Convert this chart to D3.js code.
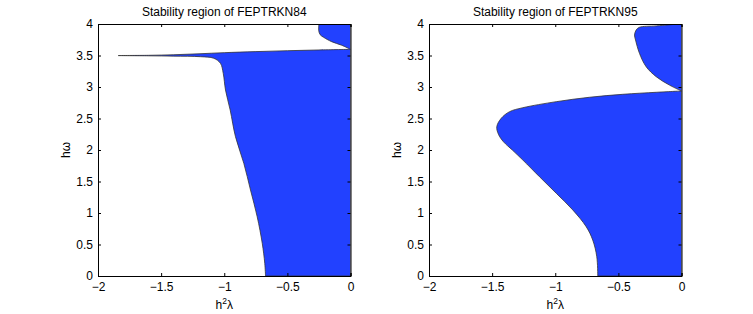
<!DOCTYPE html>
<html><head><meta charset="utf-8">
<script src="https://cdn.jsdelivr.net/npm/d3@7"></script>
<style>body{margin:0;background:#fff}svg{display:block}text{font-family:"Liberation Sans",Arial,sans-serif;fill:#000}</style>
</head><body><svg id="c" width="753" height="314"></svg>
<script>
// Tick values
const xTicks = [-2, -1.5, -1, -0.5, 0];
const yTicks = [0, 0.5, 1, 1.5, 2, 2.5, 3, 3.5, 4];
const titles = ["Stability region of FEPTRKN84", "Stability region of FEPTRKN95"];

// Boundary curves (h^2 lambda, h omega); each region is closed along the axis h^2 lambda = 0.
// FEPTRKN84: main stability region
const main84 = [[-0.673,0],[-0.679,0.2],[-0.699,0.519],[-0.739,0.941],[-0.792,1.365],[-0.845,1.789],[-0.911,2.211],[-0.953,2.635],
  [-0.99,2.952],[-1.008,3.217],[-1.03,3.376],[-1.083,3.456],[-1.188,3.481],[-1.4,3.49],[-1.6,3.495],[-1.84,3.499],
  [-1.6,3.503],[-1.4,3.512],[-1.2,3.527],[-1.0,3.545],[-0.75,3.562],[-0.5,3.576],[-0.25,3.588],[0,3.598]];
// FEPTRKN84: small region near the top right corner
const top84 = [[-0.25,4.0],[-0.252,3.9],[-0.24,3.83],[-0.214,3.79],[-0.15,3.72],[-0.07,3.663],[0,3.598]];

// FEPTRKN95: main stability region
const main95 = [[-0.663,0],[-0.671,0.306],[-0.703,0.571],[-0.755,0.783],[-0.861,1.048],[-0.992,1.313],[-1.125,1.576],[-1.257,1.841],
  [-1.34,2.0],[-1.41,2.13],[-1.45,2.25],[-1.463,2.37],[-1.428,2.503],[-1.362,2.608],[-1.257,2.671],[-0.992,2.767],[-0.729,2.837],
  [-0.465,2.884],[-0.2,2.916],[0,2.937]];
// FEPTRKN95: upper region
const top95 = [[-0.02,4.0],[-0.2,3.97],[-0.333,3.948],[-0.359,3.905],[-0.372,3.825],[-0.364,3.746],[-0.333,3.535],[-0.28,3.322],
  [-0.2,3.163],[-0.095,3.03],[0,2.937]];

const panels = [
  {left: 98, regions: [main84, top84], title: titles[0]},
  {left: 429, regions: [main95, top95], title: titles[1]}
];
const W = 252.5, T0 = 24, H = 252;
const svg = d3.select("#c");
const fillColor = "#2241ff";
const FS = 12;

panels.forEach((p, i) => {
  const x = d3.scaleLinear().domain([-2, 0]).range([0, W]);
  const y = d3.scaleLinear().domain([0, 4]).range([H, 0]);
  const g = svg.append("g").attr("transform", `translate(${p.left},${T0})`);
  const cid = "clip" + i;
  g.append("clipPath").attr("id", cid).append("rect").attr("width", W).attr("height", H);
  const line = d3.line().x(d => x(d[0])).y(d => y(d[1])).curve(d3.curveCatmullRom.alpha(0.5));
  const rg = g.append("g").attr("clip-path", `url(#${cid})`);
  p.regions.forEach(r => {
    const first = r[0];
    const d = line(r) + `L${x(0)},${y(first[1])}Z`;
    rg.append("path").attr("d", d).attr("fill", fillColor)
      .attr("stroke", "#333").attr("stroke-width", 0.8).attr("stroke-linejoin", "round");
  });
  // axes
  const tl = 3;
  const bottomAx = g.append("g").attr("transform", `translate(0,${H})`)
    .call(d3.axisBottom(x).tickValues(xTicks).tickSize(-tl).tickPadding(6.5).tickFormat(d => d === 0 ? "0" : "\u2212" + Math.abs(d)));
  const topAx = g.append("g").call(d3.axisTop(x).tickValues(xTicks).tickSize(-tl).tickFormat(""));
  const leftAx = g.append("g").call(d3.axisLeft(y).tickValues(yTicks).tickSize(-tl).tickPadding(5).tickFormat(d => String(d)));
  const rightAx = g.append("g").attr("transform", `translate(${W},0)`).call(d3.axisRight(y).tickValues(yTicks).tickSize(-tl).tickFormat(""));
  [bottomAx, topAx, leftAx, rightAx].forEach(a => {
    a.selectAll("path").attr("stroke", "#000").attr("stroke-width", 1);
    a.selectAll("line").attr("stroke", "#000");
    a.selectAll("text").attr("font-size", FS).attr("font-family", "Liberation Sans, Arial, sans-serif").attr("fill", "#000");
  });
  // title
  g.append("text").attr("x", W / 2).attr("y", -8).attr("text-anchor", "middle").attr("font-size", FS).text(p.title);
  // xlabel
  const xl = g.append("text").attr("x", W / 2).attr("y", H + 33).attr("text-anchor", "middle").attr("font-size", FS);
  xl.append("tspan").text("h");
  xl.append("tspan").attr("dy", -5).attr("font-size", 8.5).text("2");
  xl.append("tspan").attr("dy", 5).text("\u03bb");
  // ylabel
  g.append("text").attr("transform", `translate(-28,${H / 2}) rotate(-90)`).attr("text-anchor", "middle").attr("font-size", FS).text("h\u03c9");
});
</script></body></html>
